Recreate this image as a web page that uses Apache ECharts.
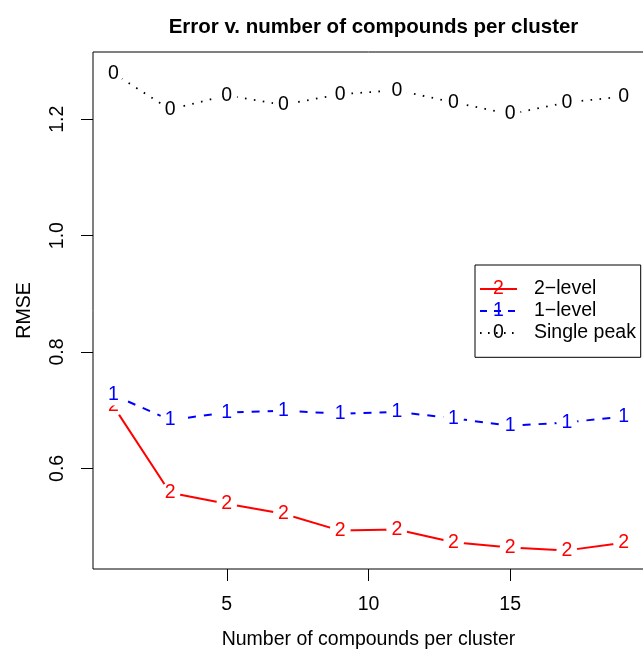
<!DOCTYPE html>
<html><head><meta charset="utf-8">
<script src="https://cdn.jsdelivr.net/npm/echarts@6/dist/echarts.min.js"></script>
<style>html,body{margin:0;padding:0;background:#fff}#c{width:643px;height:650px}</style>
</head><body><div id="c"></div>
<script>
// ---- data ----
const xValues = [1, 3, 5, 7, 9, 11, 13, 15, 17, 19];
const twoLevel = [0.707, 0.558, 0.539, 0.522, 0.493, 0.495, 0.473, 0.464, 0.459, 0.472];
const oneLevel = [0.726, 0.683, 0.696, 0.699, 0.694, 0.697, 0.686, 0.673, 0.679, 0.689];
const singlePeak = [1.279, 1.217, 1.241, 1.225, 1.243, 1.250, 1.229, 1.209, 1.229, 1.239];
const xTicks = [5, 10, 15];
const yTicks = [0.6, 0.8, 1.0, 1.2];
const seriesNames = ['2\u2212level', '1\u2212level', 'Single peak'];
const glyphs = ['2', '1', '0'];
const titleText = 'Error v. number of compounds per cluster';
const xTitle = 'Number of compounds per cluster';
const yTitle = 'RMSE';

// ---- styles ----
const FONT = '"Liberation Sans", Arial, Helvetica, sans-serif';
const FS = 19.5;
const colors = ['#ff0000', '#0000ff', '#000000'];
const dashes = ['solid', [8, 8], [1.6, 7.4]];
const widths = [2, 2, 1.8];
const values = [twoLevel, oneLevel, singlePeak];

const chart = echarts.init(document.getElementById('c'), null, {renderer: 'canvas'});

const series = values.map((vals, i) => ({
  name: seriesNames[i],
  type: 'line',
  data: xValues.map((x, j) => [x, vals[j]]),
  symbol: 'circle',
  symbolSize: 21,
  showSymbol: true,
  itemStyle: {color: '#ffffff', borderWidth: 0},
  lineStyle: {color: colors[i], width: widths[i], type: dashes[i], cap: 'butt'},
  label: {
    show: true, position: 'inside', formatter: glyphs[i],
    color: colors[i], fontSize: FS, fontFamily: FONT
  },
  emphasis: {disabled: true},
  z: 3 + i
}));

// legend drawn as graphic
const lgX = 475, lgY = 265, lgW = 165.7, lgH = 92.3;
const rowY = [289, 311, 333];
const legendEls = [{
  type: 'rect', shape: {x: lgX, y: lgY, width: lgW, height: lgH},
  style: {fill: '#fff', stroke: '#000', lineWidth: 1}, z: 100
}];
seriesNames.forEach((name, i) => {
  legendEls.push({
    type: 'line', shape: {x1: 480, y1: rowY[i], x2: 517, y2: rowY[i]},
    style: {stroke: colors[i], lineWidth: widths[i],
      lineDash: dashes[i] === 'solid' ? null : (i === 1 ? [7, 7] : [1.6, 6.4])},
    z: 101
  });
  legendEls.push({
    type: 'text', x: 498.5, y: rowY[i],
    style: {text: glyphs[i], fill: colors[i], font: FS + 'px ' + FONT, align: 'center', verticalAlign: 'middle'},
    z: 102
  });
  legendEls.push({
    type: 'text', x: 534, y: rowY[i],
    style: {text: name, fill: '#000', font: FS + 'px ' + FONT, align: 'left', verticalAlign: 'middle'},
    z: 102
  });
});

chart.setOption({
  animation: false,
  backgroundColor: '#fff',
  title: {
    text: titleText, left: 368.5, top: 12, textAlign: 'center',
    textStyle: {fontSize: 20.5, fontWeight: 'bold', color: '#000', fontFamily: FONT}
  },
  grid: {left: 93, top: 52, width: 551, height: 517, show: true, borderColor: '#000', borderWidth: 1,
         backgroundColor: 'transparent', containLabel: false, outerBoundsMode: 'none'},
  xAxis: {
    type: 'value', min: 0.28, max: 19.72,
    name: xTitle, nameLocation: 'middle', nameGap: 61,
    nameTextStyle: {fontSize: FS, color: '#000', fontFamily: FONT},
    axisLine: {show: false},
    axisTick: {show: true, length: 12, customValues: xTicks, lineStyle: {color: '#000', width: 1}},
    axisLabel: {show: true, customValues: xTicks, fontSize: FS, color: '#000', fontFamily: FONT, margin: 26},
    splitLine: {show: false}
  },
  yAxis: {
    type: 'value', min: 0.427, max: 1.3156,
    name: yTitle, nameLocation: 'middle', nameGap: 58,
    nameTextStyle: {fontSize: FS, color: '#000', fontFamily: FONT},
    axisLine: {show: false},
    axisTick: {show: true, length: 12, customValues: yTicks, lineStyle: {color: '#000', width: 1}},
    axisLabel: {show: true, customValues: yTicks, rotate: 90, fontSize: FS, color: '#000', fontFamily: FONT, margin: 25,
      formatter: v => v.toFixed(1)},
    splitLine: {show: false}
  },
  legend: {show: false},
  tooltip: {show: false},
  series: series,
  graphic: {elements: legendEls}
});
</script>
</body></html>
